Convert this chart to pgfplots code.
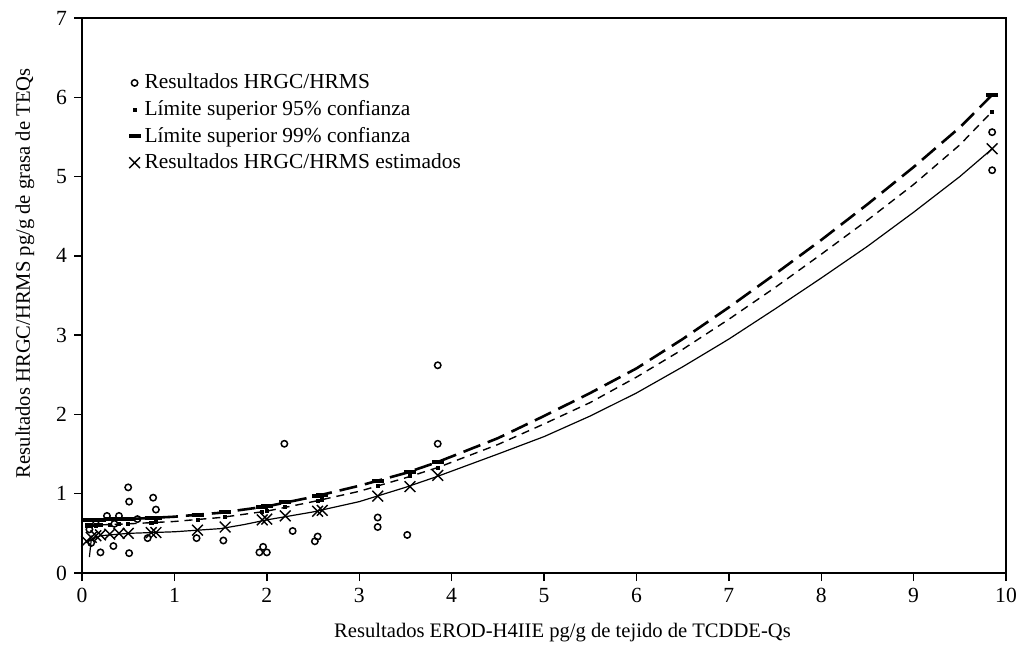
\documentclass[border=0pt]{standalone}
\usepackage{fontspec}
\setmainfont{Liberation Serif}
\usepackage{pgfplots}
\pgfplotsset{compat=1.18}

% values at the measured x positions
\pgfplotstableread{
x     est   u95   u99
0.05  0.40  0.60  0.67
0.10  0.45  0.60  0.67
0.15  0.47  0.60  0.67
0.20  0.48  0.61  0.67
0.30  0.49  0.61  0.68
0.40  0.50  0.62  0.68
0.50  0.50  0.62  0.68
0.75  0.51  0.63  0.70
0.80  0.51  0.64  0.70
1.25  0.54  0.67  0.73
1.55  0.58  0.71  0.77
1.95  0.67  0.77  0.83
2.00  0.68  0.78  0.84
2.20  0.72  0.83  0.89
2.55  0.78  0.91  0.97
2.60  0.79  0.92  0.98
3.20  0.97  1.10  1.16
3.55  1.09  1.22  1.28
3.85  1.23  1.33  1.40
9.85  5.35  5.82  6.03
}\marks

% HRGC/HRMS measurements
\pgfplotstableread{
x     y
0.50  1.08
0.51  0.90
0.77  0.95
0.80  0.80
0.27  0.72
0.40  0.72
0.71  0.44
0.34  0.34
0.51  0.25
0.20  0.26
0.10  0.38
0.08  0.55
0.15  0.62
0.35  0.62
0.60  0.68
1.24  0.44
1.53  0.41
1.92  0.26
2.00  0.26
1.96  0.33
2.19  1.63
2.28  0.53
2.52  0.40
2.55  0.46
3.20  0.70
3.20  0.58
3.52  0.48
3.85  2.62
3.85  1.63
9.85  5.56
9.85  5.08
}\meas

\begin{document}
\begin{tikzpicture}
\useasboundingbox (-41pt,-38pt) rectangle (467.5pt,286.5pt);
\begin{axis}[
  scale only axis,
  width=462pt, height=277.5pt,
  xmin=0, xmax=10, ymin=0, ymax=7,
  xtick={0,...,10}, ytick={0,...,7},
  tick align=outside, xtick pos=bottom, ytick pos=left,
  major tick length=4pt,
  axis line style={line width=1pt},
  every tick/.style={black, line width=0.7pt},
  /pgf/number format/assume math mode=true,
  tick label style={font=\fontsize{10.8}{12}\selectfont},
  xlabel={Resultados EROD-H4IIE pg/g de tejido de TCDDE-Qs},
  ylabel={Resultados HRGC/HRMS pg/g de grasa de TEQs},
  label style={font=\fontsize{10.3}{12}\selectfont},
  xlabel style={at={(axis description cs:0.52,-0.108)}, anchor=center},
  ylabel style={at={(axis description cs:-0.0617,0.54)}, anchor=center},
  legend style={draw=none, fill=none, at={(rel axis cs:0.05,0.907)}, anchor=north west,
    font=\fontsize{10.7}{12}\selectfont, row sep=0.3pt, inner sep=0pt},
  legend cell align=left,
  legend image code/.code={\draw[#1] plot coordinates {(0.12cm,0cm)};},
]
% lines (no legend)
\addplot[black, line width=0.6pt, forget plot] coordinates {
  (0.08,0.20) (0.10,0.42) (0.20,0.47) (0.50,0.50) (1.00,0.52) (1.50,0.56)
  (1.75,0.61) (2.00,0.67) (2.50,0.77) (3.00,0.90) (3.50,1.08) (3.85,1.22)
  (4.50,1.50) (5.00,1.72) (5.50,1.98) (6.00,2.27) (6.50,2.60) (7.00,2.95)
  (7.50,3.33) (8.00,3.72) (8.50,4.12) (9.00,4.55) (9.50,5.00) (9.85,5.35)};
\addplot[black, line width=0.7pt, dash pattern=on 4pt off 3pt, forget plot] coordinates {
  (0.05,0.60) (0.50,0.62) (1.00,0.65) (1.50,0.70) (2.00,0.78) (2.50,0.90)
  (3.00,1.03) (3.50,1.20) (3.85,1.33) (4.50,1.62) (5.00,1.88) (5.50,2.15)
  (6.00,2.47) (6.50,2.82) (7.00,3.20) (7.50,3.60) (8.00,4.02) (8.50,4.45)
  (9.00,4.90) (9.50,5.40) (9.85,5.82)};
\addplot[black, line width=1.3pt, dash pattern=on 9pt off 4pt, forget plot] coordinates {
  (0.00,0.67) (0.50,0.68) (1.00,0.71) (1.50,0.76) (2.00,0.84) (2.50,0.96)
  (3.00,1.10) (3.50,1.26) (3.85,1.40) (4.50,1.70) (5.00,1.98) (5.50,2.27)
  (6.00,2.58) (6.50,2.95) (7.00,3.35) (7.50,3.77) (8.00,4.20) (8.50,4.65)
  (9.00,5.12) (9.50,5.62) (9.85,6.03)};
% marks
\addplot[only marks, mark=o, mark size=1.6pt, mark options={black, line width=0.75pt}]
  table[x=x, y=y] {\meas};
\addlegendentry{Resultados HRGC/HRMS}
\addplot[only marks, mark=square*, mark size=0.8pt, mark options={black}]
  table[x=x, y=u95] {\marks};
\addlegendentry{Límite superior 95\% confianza}
\addplot[only marks, mark=-, mark size=3pt, mark options={black, line width=2pt}]
  table[x=x, y=u99] {\marks};
\addlegendentry{Límite superior 99\% confianza}
\addplot[only marks, mark=x, mark size=3.8pt, mark options={black, line width=0.7pt}]
  table[x=x, y=est] {\marks};
\addlegendentry{Resultados HRGC/HRMS estimados}
\end{axis}
\end{tikzpicture}
\end{document}
